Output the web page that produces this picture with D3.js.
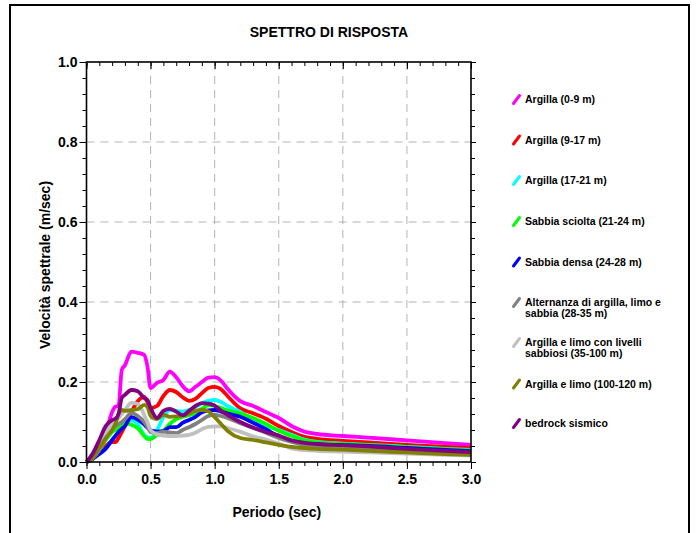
<!DOCTYPE html>
<html>
<head>
<meta charset="utf-8">
<script src="https://cdn.jsdelivr.net/npm/d3@7"></script>
<style>
  body { margin: 0; background: #fff; }
  svg { display: block; font-family: "Liberation Sans", Arial, sans-serif; font-weight: bold; }
</style>
</head>
<body>
<svg id="chart" width="698" height="533"></svg>
<script>
// periods (sec)
var periods = [0, 0.05, 0.1, 0.15, 0.2, 0.225, 0.25, 0.275, 0.3, 0.35, 0.4, 0.45, 0.475, 0.5,
  0.55, 0.6, 0.65, 0.7, 0.75, 0.8, 0.85, 0.9, 0.95, 1.0, 1.05, 1.1, 1.2, 1.3, 1.4, 1.5,
  1.6, 1.7, 1.8, 2.0, 2.2, 2.5, 2.8, 3.0];

var argilla0_9 = [0, 0.015, 0.035, 0.07, 0.125, 0.138, 0.14, 0.23, 0.242, 0.276, 0.273, 0.268, 0.24, 0.185,
  0.198, 0.205, 0.226, 0.212, 0.19, 0.177, 0.188, 0.2, 0.211, 0.212, 0.203, 0.183, 0.152, 0.14, 0.125, 0.11,
  0.09, 0.076, 0.07, 0.065, 0.061, 0.054, 0.047, 0.043];
var argilla9_17 = [0, 0.01, 0.025, 0.04, 0.05, 0.05, 0.06, 0.075, 0.09, 0.125, 0.152, 0.163, 0.15, 0.135,
  0.14, 0.165, 0.18, 0.175, 0.162, 0.153, 0.158, 0.172, 0.185, 0.188, 0.182, 0.165, 0.134, 0.122, 0.108, 0.09,
  0.075, 0.063, 0.058, 0.053, 0.049, 0.043, 0.038, 0.035];
var argilla17_21 = [0, 0.01, 0.03, 0.06, 0.088, 0.09, 0.09, 0.088, 0.095, 0.105, 0.095, 0.068, 0.062, 0.06,
  0.08, 0.112, 0.13, 0.128, 0.126, 0.13, 0.138, 0.147, 0.153, 0.155, 0.15, 0.14, 0.125, 0.102, 0.09, 0.08,
  0.068, 0.056, 0.05, 0.046, 0.043, 0.038, 0.033, 0.03];
var sabbiaSciolta = [0, 0.01, 0.03, 0.055, 0.075, 0.08, 0.085, 0.092, 0.097, 0.093, 0.085, 0.065, 0.058, 0.057,
  0.068, 0.078, 0.095, 0.107, 0.113, 0.117, 0.122, 0.133, 0.142, 0.14, 0.135, 0.129, 0.121, 0.11, 0.095, 0.078,
  0.065, 0.054, 0.049, 0.045, 0.042, 0.037, 0.032, 0.029];
var sabbiaDensa = [0, 0.008, 0.02, 0.033, 0.055, 0.065, 0.075, 0.083, 0.09, 0.112, 0.106, 0.094, 0.086, 0.079,
  0.076, 0.077, 0.087, 0.087, 0.098, 0.105, 0.113, 0.124, 0.129, 0.13, 0.126, 0.121, 0.113, 0.098, 0.082, 0.064,
  0.052, 0.046, 0.044, 0.042, 0.04, 0.035, 0.03, 0.027];
var alternanza = [0, 0.01, 0.03, 0.06, 0.085, 0.09, 0.095, 0.1, 0.107, 0.122, 0.115, 0.1, 0.088, 0.075,
  0.072, 0.076, 0.074, 0.072, 0.08, 0.087, 0.095, 0.105, 0.115, 0.118, 0.115, 0.11, 0.097, 0.085, 0.073, 0.06,
  0.05, 0.043, 0.04, 0.038, 0.035, 0.03, 0.025, 0.022];
var argillaLimoLivelli = [0, 0.012, 0.035, 0.07, 0.095, 0.1, 0.11, 0.12, 0.13, 0.148, 0.145, 0.118, 0.1, 0.08,
  0.069, 0.066, 0.065, 0.065, 0.066, 0.068, 0.073, 0.082, 0.088, 0.089, 0.089, 0.085, 0.076, 0.064, 0.056, 0.046,
  0.034, 0.03, 0.028, 0.026, 0.024, 0.021, 0.018, 0.016];
var argillaLimo = [0, 0.01, 0.035, 0.06, 0.08, 0.095, 0.12, 0.13, 0.128, 0.13, 0.132, 0.143, 0.138, 0.115,
  0.107, 0.118, 0.113, 0.114, 0.116, 0.121, 0.128, 0.13, 0.127, 0.112, 0.095, 0.078, 0.06, 0.055, 0.049, 0.043,
  0.038, 0.035, 0.033, 0.031, 0.028, 0.024, 0.02, 0.018];
var bedrock = [0, 0.022, 0.055, 0.09, 0.105, 0.108, 0.12, 0.16, 0.168, 0.18, 0.177, 0.16, 0.155, 0.135,
  0.11, 0.128, 0.133, 0.126, 0.117, 0.128, 0.14, 0.147, 0.146, 0.141, 0.128, 0.118, 0.1, 0.086, 0.075, 0.066,
  0.054, 0.048, 0.045, 0.042, 0.039, 0.033, 0.028, 0.025];

var seriesNames = [
  ["Argilla (0-9 m)"],
  ["Argilla (9-17 m)"],
  ["Argilla (17-21 m)"],
  ["Sabbia sciolta (21-24 m)"],
  ["Sabbia densa (24-28 m)"],
  ["Alternanza di argilla, limo e", "sabbia (28-35 m)"],
  ["Argilla e limo con livelli", "sabbiosi (35-100 m)"],
  ["Argilla e limo (100-120 m)"],
  ["bedrock sismico"]
];
var seriesValues = [argilla0_9, argilla9_17, argilla17_21, sabbiaSciolta, sabbiaDensa,
  alternanza, argillaLimoLivelli, argillaLimo, bedrock];
var seriesColors = ["#ff00ff", "#ff0000", "#00ffff", "#00ff00", "#0000ff",
  "#808080", "#c0c0c0", "#808000", "#800080"];

var xMajor = [0, 0.5, 1.0, 1.5, 2.0, 2.5, 3.0];
var yMajor = [0, 0.2, 0.4, 0.6, 0.8, 1.0];

var svg = d3.select("#chart");
var plot = {left: 86.5, right: 471, top: 62, bottom: 462};

var x = d3.scaleLinear().domain([0, 3]).range([plot.left, plot.right]);
var y = d3.scaleLinear().domain([0, 1]).range([plot.bottom, plot.top]);

// outer frame
svg.append("rect").attr("x", 10).attr("y", 5).attr("width", 679).attr("height", 560)
  .attr("fill", "none").attr("stroke", "#000").attr("stroke-width", 2);

// title
svg.append("text").attr("x", 329).attr("y", 37).attr("text-anchor", "middle")
  .attr("font-size", 14).text("SPETTRO DI RISPOSTA");

// grid
var grid = svg.append("g").attr("stroke", "#b4b4b4").attr("stroke-width", 1).attr("stroke-dasharray", "8,6");
grid.selectAll(".gx").data(xMajor.slice(1, -1)).enter().append("line")
  .attr("x1", d => x(d)).attr("x2", d => x(d)).attr("y1", plot.top).attr("y2", plot.bottom);
grid.selectAll(".gy").data(yMajor.slice(1, -1)).enter().append("line")
  .attr("y1", d => y(d)).attr("y2", d => y(d)).attr("x1", plot.left).attr("x2", plot.right);

// curves
var line = d3.line()
  .x((d, i) => x(periods[i]))
  .y(d => y(d))
  .curve(d3.curveMonotoneX);

svg.append("g").selectAll("path").data(seriesValues).enter().append("path")
  .attr("d", d => line(d))
  .attr("fill", "none")
  .attr("stroke", (d, i) => seriesColors[i])
  .attr("stroke-width", 3.8)
  .attr("stroke-linejoin", "round");

// axes
var xMinor = d3.range(0, 3.001, 0.1);
var yMinor = d3.range(0, 1.001, 0.04);
function styleAxis(g) {
  g.select(".domain").remove();
  g.selectAll("line").attr("stroke", "#000");
}
function styleLabels(g) {
  g.selectAll("text").attr("font-size", 14).attr("fill", "#000")
    .attr("font-family", "Liberation Sans, Arial").attr("font-weight", "bold");
}

// bottom
svg.append("g").attr("transform", "translate(0," + plot.bottom + ")")
  .call(d3.axisBottom(x).tickValues(xMinor).tickSize(4).tickFormat(""))
  .call(styleAxis);
svg.append("g").attr("transform", "translate(0," + plot.bottom + ")")
  .call(d3.axisBottom(x).tickValues(xMajor).tickSize(7).tickPadding(5).tickFormat(d3.format(".1f")))
  .call(styleAxis)
  .call(styleLabels);
// top (ticks inside)
svg.append("g").attr("transform", "translate(0," + plot.top + ")")
  .call(d3.axisBottom(x).tickValues(xMinor).tickSize(4).tickFormat(""))
  .call(styleAxis);
svg.append("g").attr("transform", "translate(0," + plot.top + ")")
  .call(d3.axisBottom(x).tickValues(xMajor).tickSize(7).tickFormat(""))
  .call(styleAxis);
// left
svg.append("g").attr("transform", "translate(" + plot.left + ",0)")
  .call(d3.axisLeft(y).tickValues(yMinor).tickSize(4).tickFormat(""))
  .call(styleAxis);
svg.append("g").attr("transform", "translate(" + plot.left + ",0)")
  .call(d3.axisLeft(y).tickValues(yMajor).tickSize(7).tickPadding(2).tickFormat(d3.format(".1f")))
  .call(styleAxis)
  .call(styleLabels);
// right
svg.append("g").attr("transform", "translate(" + plot.right + ",0)")
  .call(d3.axisRight(y).tickValues(yMinor).tickSize(4).tickFormat(""))
  .call(styleAxis);
svg.append("g").attr("transform", "translate(" + plot.right + ",0)")
  .call(d3.axisRight(y).tickValues(yMajor).tickSize(5).tickFormat(""))
  .call(styleAxis);

// frame of plot
svg.append("rect").attr("x", plot.left).attr("y", plot.top)
  .attr("width", plot.right - plot.left).attr("height", plot.bottom - plot.top)
  .attr("fill", "none").attr("stroke", "#000").attr("stroke-width", 1.6);

// axis titles
svg.append("text").attr("x", (plot.left + plot.right) / 2 - 2).attr("y", 517).attr("text-anchor", "middle")
  .attr("font-size", 14).text("Periodo (sec)");
svg.append("text").attr("transform", "translate(50,265) rotate(-90)").attr("text-anchor", "middle")
  .attr("font-size", 14).text("Velocità spettrale (m/sec)");

// legend
var legendY = [99.5, 140, 180.5, 221.5, 262, 302.5, 342.5, 384, 423.5];
var legend = svg.append("g");
seriesNames.forEach(function(lines, i) {
  var cy = legendY[i];
  legend.append("line")
    .attr("x1", 513.5).attr("y1", cy + 4).attr("x2", 519.5).attr("y2", cy - 4)
    .attr("stroke", seriesColors[i]).attr("stroke-width", 3).attr("stroke-linecap", "round");
  lines.forEach(function(t, j) {
    legend.append("text").attr("x", 525).attr("y", cy + 3.7 + j * 11)
      .attr("font-size", 10.5).text(t);
  });
});
</script>
</body>
</html>
